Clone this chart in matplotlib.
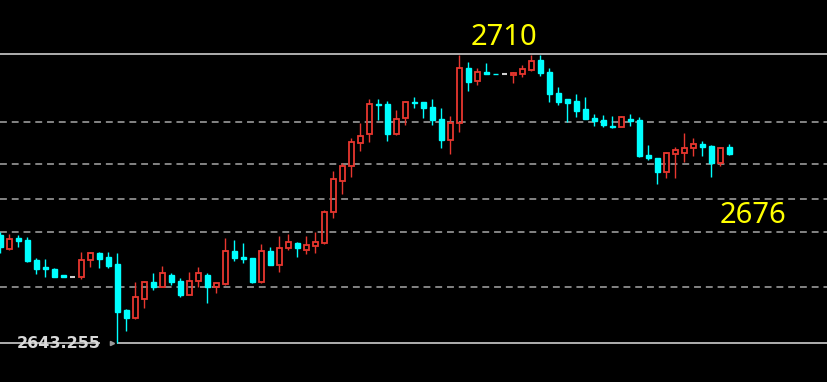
import matplotlib
matplotlib.use("Agg")
import matplotlib.pyplot as plt

# OHLC (one bar per slot)
opens = [2668.2, 2665.0, 2667.5, 2667.1, 2662.4, 2660.8, 2660.4, 2659.0, 2658.5, 2658.5,
         2662.4, 2664.1, 2663.1, 2661.5, 2650.9, 2649.0, 2653.4, 2657.4, 2656.2, 2659.0,
         2657.6, 2654.4, 2657.6, 2659.0, 2656.2, 2656.9, 2664.5, 2663.1, 2662.9, 2657.4,
         2664.5, 2661.3, 2665.2, 2666.4, 2664.7, 2665.7, 2666.4, 2673.5, 2680.7, 2684.1,
         2689.5, 2691.5, 2698.5, 2698.5, 2691.5, 2695.2, 2698.9, 2698.9, 2697.8, 2695.0,
         2690.2, 2694.1, 2706.8, 2703.8, 2705.9, 2705.5, 2705.4, 2705.2, 2705.4, 2706.3,
         2708.6, 2705.9, 2701.0, 2699.6, 2699.2, 2697.3, 2695.2, 2694.8, 2693.4, 2693.2,
         2695.0, 2694.8, 2686.7, 2686.0, 2682.8, 2686.9, 2687.1, 2688.3, 2689.2, 2688.8,
         2684.8, 2688.5]
highs = [2668.9, 2668.4, 2668.2, 2667.7, 2662.9, 2662.7, 2660.6, 2659.0, 2658.5, 2664.3,
         2664.3, 2664.2, 2664.3, 2664.1, 2651.1, 2657.4, 2657.6, 2659.4, 2661.0, 2659.4,
         2658.3, 2659.7, 2660.8, 2659.4, 2657.2, 2667.5, 2667.1, 2666.4, 2663.0, 2666.1,
         2665.4, 2668.0, 2668.4, 2666.6, 2668.0, 2668.9, 2674.0, 2683.0, 2684.8, 2690.6,
         2694.1, 2699.6, 2699.6, 2699.2, 2697.1, 2699.2, 2700.1, 2699.0, 2699.6, 2697.5,
         2695.7, 2709.8, 2708.2, 2706.8, 2707.9, 2705.5, 2705.4, 2705.9, 2707.5, 2709.8,
         2709.8, 2706.8, 2702.4, 2699.7, 2700.8, 2700.1, 2696.2, 2695.9, 2695.7, 2695.7,
         2696.2, 2695.5, 2689.0, 2686.1, 2687.4, 2688.5, 2691.8, 2690.6, 2689.9, 2688.9,
         2688.5, 2689.2]
lows = [2664.1, 2664.7, 2665.4, 2662.0, 2659.2, 2658.5, 2658.4, 2658.4, 2658.5, 2658.1,
        2660.8, 2660.6, 2660.6, 2643.26, 2646.0, 2648.9, 2651.4, 2655.5, 2656.1, 2656.7,
        2653.9, 2654.3, 2656.2, 2652.5, 2654.8, 2656.7, 2662.2, 2661.7, 2657.1, 2657.1,
        2661.2, 2659.7, 2664.7, 2663.1, 2663.8, 2664.1, 2666.1, 2672.1, 2677.7, 2681.6,
        2687.6, 2689.7, 2694.8, 2689.9, 2691.4, 2693.6, 2697.5, 2695.2, 2693.6, 2688.3,
        2686.9, 2692.0, 2701.5, 2702.9, 2705.4, 2705.4, 2705.4, 2703.3, 2704.7, 2706.2,
        2704.9, 2698.9, 2698.2, 2694.3, 2695.5, 2694.9, 2693.4, 2693.2, 2692.9, 2693.1,
        2693.4, 2686.2, 2685.5, 2680.0, 2681.4, 2681.4, 2685.1, 2686.5, 2686.5, 2681.6,
        2684.1, 2686.8]
closes = [2665.4, 2667.3, 2666.8, 2662.2, 2660.4, 2660.4, 2658.5, 2658.5, 2658.5, 2662.4,
          2664.1, 2662.7, 2661.0, 2650.4, 2649.0, 2653.9, 2657.4, 2656.2, 2659.4, 2657.4,
          2654.4, 2657.6, 2659.4, 2656.2, 2657.1, 2664.5, 2662.9, 2662.7, 2657.4, 2664.5,
          2661.3, 2665.2, 2666.6, 2665.2, 2665.9, 2666.6, 2673.5, 2681.1, 2684.1, 2689.7,
          2691.1, 2698.5, 2698.2, 2691.5, 2695.0, 2698.9, 2698.7, 2697.5, 2694.8, 2690.2,
          2694.1, 2706.8, 2703.6, 2705.9, 2705.4, 2705.4, 2705.4, 2705.6, 2706.6, 2708.4,
          2705.6, 2700.8, 2698.9, 2698.7, 2696.8, 2695.0, 2694.5, 2693.6, 2693.2, 2695.5,
          2694.5, 2686.5, 2686.0, 2682.8, 2687.1, 2687.8, 2688.3, 2689.2, 2688.5, 2684.8,
          2688.3, 2686.9]

top_level = 2710.0
low_level = 2643.255
dashed_levels = [2694.4, 2684.6, 2676.6, 2668.9, 2656.2]

UP = "#e8372f"
DOWN = "#00ffff"
FLAT = "#cfcfcf"
GRID = "#a8a8a8"

fig = plt.figure(figsize=(8.28, 3.82), dpi=100, facecolor="black")
ax = fig.add_axes([0, 0, 1, 1])
ax.set_facecolor("black")
ax.set_xlim(-0.05, 91.95)
ax.set_ylim(2634.25, 2722.49)
ax.axis("off")

# reference lines
for lvl in dashed_levels:
    ax.axhline(lvl, color=GRID, lw=1.1, linestyle=(0, (4.5, 3.2)), zorder=1)
ax.axhline(top_level, color="#bdbdbd", lw=1.3, zorder=1)
ax.hlines(low_level, -0.05, 11.1, color="#bdbdbd", lw=1.3, zorder=1)
ax.hlines(low_level, 13.0, 91.95, color="#bdbdbd", lw=1.3, zorder=1)
ax.plot([12.45], [low_level], marker=">", ms=3, color="#9a9a9a", zorder=2)

width = 0.6
for i, (o, h, l, c) in enumerate(zip(opens, highs, lows, closes)):
    top, bot = max(o, c), min(o, c)
    if c > o:
        ax.vlines(i, top, h, color=UP, lw=1.0, zorder=3)
        ax.vlines(i, l, bot, color=UP, lw=1.0, zorder=3)
        ax.bar(i, top - bot, bottom=bot, width=width, facecolor="none",
               edgecolor=UP, linewidth=1.3, zorder=4)
    elif c < o:
        ax.vlines(i, l, h, color=DOWN, lw=1.0, zorder=3)
        ax.bar(i, top - bot, bottom=bot, width=width, color=DOWN,
               edgecolor=DOWN, linewidth=1.0, zorder=4)
    else:
        ax.vlines(i, l, h, color=FLAT, lw=1.0, zorder=3)
        ax.hlines(o, i - width / 2, i + width / 2, color=FLAT, lw=1.5, zorder=4)

ax.text(55.9, 2713.9, "2710", color="#ffff00", fontsize=21, family="Noto Sans",
        ha="center", va="center", zorder=5)
ax.text(83.6, 2672.6, "2676", color="#ffff00", fontsize=21, family="Noto Sans",
        ha="center", va="center", zorder=5)
ax.text(6.5, low_level, "2643.255", color="#d8d8d8", fontsize=11.5, fontweight="bold",
        ha="center", va="center", zorder=5)

fig.savefig("out.png", dpi=100, facecolor="black")
